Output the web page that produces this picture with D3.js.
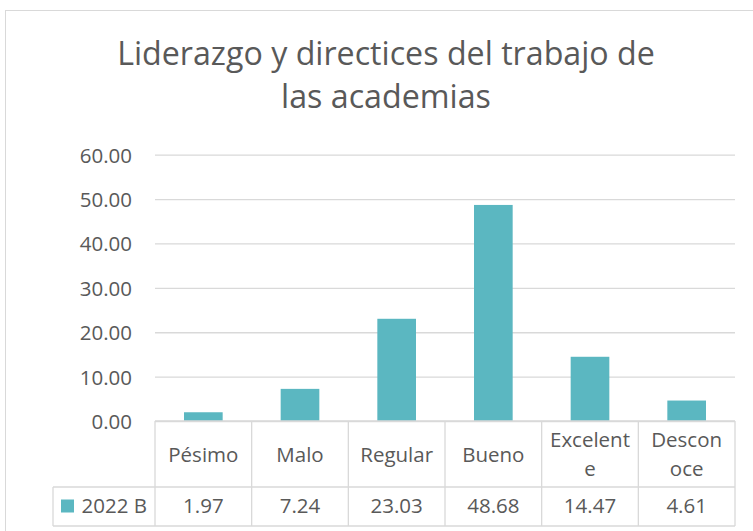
<!DOCTYPE html>
<html>
<head>
<meta charset="utf-8">
<script src="https://cdn.jsdelivr.net/npm/d3@7"></script>
<style>
  html, body { margin: 0; padding: 0; background: #fff; }
  text { font-family: "Open Sans", sans-serif; fill: #595959; }
</style>
</head>
<body>
<script>
const WIDTH = 753;
const HEIGHT = 531;

// data
const titleLines = ["Liderazgo y directices del trabajo de", "las academias"];
const categories = ["Pésimo", "Malo", "Regular", "Bueno", "Excelente", "Desconoce"];
const categoryLines = [["Pésimo"], ["Malo"], ["Regular"], ["Bueno"], ["Excelent", "e"], ["Descon", "oce"]];
const seriesName = "2022 B";
const values = [1.97, 7.24, 23.03, 48.68, 14.47, 4.61];
const yTicks = [0, 10, 20, 30, 40, 50, 60];

const BAR = "#5bb7c1";
const GRID = "#d9d9d9";

const plot = { left: 155, right: 735, top: 154.7, bottom: 421 };
const rowSplit = 487;
const tableBottom = 526;
const legendLeft = 53;

let svg = d3.select("body")
            .append("svg")
            .attr("width", WIDTH)
            .attr("height", HEIGHT);

// chart frame (cut off on the right and bottom)
svg.append("rect")
   .attr("x", 5.5).attr("y", 10.5)
   .attr("width", 800).attr("height", 600)
   .attr("fill", "#fff")
   .attr("stroke", GRID);

// title
svg.append("text")
   .attr("text-anchor", "middle")
   .style("font-size", "32.2px")
   .selectAll("tspan")
   .data(titleLines).enter()
   .append("tspan")
   .attr("x", 386)
   .attr("y", (d, i) => 65 + i * 43)
   .text(d => d);

let x = d3.scaleBand()
          .domain(categories)
          .range([plot.left, plot.right])
          .paddingInner(0.6)
          .paddingOuter(0.3);

let y = d3.scaleLinear()
          .domain([0, 60])
          .range([plot.bottom, plot.top]);

// gridlines + y labels
let yAxis = svg.append("g")
               .attr("transform", `translate(${plot.left},0)`)
               .call(d3.axisLeft(y)
                       .tickValues(yTicks)
                       .tickSize(-(plot.right - plot.left))
                       .tickPadding(23)
                       .tickFormat(d3.format(".2f")));
yAxis.select(".domain").remove();
yAxis.selectAll(".tick line").attr("stroke", GRID).attr("stroke-width", 1.3);
yAxis.selectAll(".tick text")
     .style("font-size", "20.5px")
     .style("font-family", "'Open Sans', sans-serif")
     .attr("fill", "#595959")
     .attr("dy", "0.36em");

// bars
svg.selectAll("rect.bar")
   .data(values).enter()
   .append("rect")
   .attr("class", "bar")
   .attr("x", (d, i) => x(categories[i]))
   .attr("y", d => y(d))
   .attr("width", x.bandwidth())
   .attr("height", d => y(0) - y(d))
   .attr("fill", BAR);

// data table
const step = x.step();
const colEdges = d3.range(categories.length + 1).map(i => plot.left + i * step);
let table = svg.append("g").attr("stroke", GRID).attr("stroke-width", 1.3);

table.append("line")
     .attr("x1", plot.left).attr("x2", plot.right)
     .attr("y1", plot.bottom).attr("y2", plot.bottom);
[rowSplit, tableBottom].forEach(yy => {
  table.append("line")
       .attr("x1", legendLeft).attr("x2", plot.right)
       .attr("y1", yy).attr("y2", yy);
});
colEdges.forEach(xx => {
  table.append("line")
       .attr("x1", xx).attr("x2", xx)
       .attr("y1", plot.bottom).attr("y2", tableBottom);
});
table.append("line")
     .attr("x1", legendLeft).attr("x2", legendLeft)
     .attr("y1", rowSplit).attr("y2", tableBottom);

// category labels
let catCells = svg.selectAll("text.cat")
                  .data(categoryLines).enter()
                  .append("text")
                  .attr("class", "cat")
                  .attr("text-anchor", "middle")
                  .style("font-size", "20.5px");
catCells.each(function(lines, i) {
  const cx = x(categories[i]) + x.bandwidth() / 2;
  const mid = (plot.bottom + rowSplit) / 2;
  const lh = 28.5;
  const first = mid + 7.5 - (lines.length - 1) * lh / 2;
  d3.select(this).selectAll("tspan")
    .data(lines).enter()
    .append("tspan")
    .attr("x", cx)
    .attr("y", (d, j) => first + j * lh)
    .text(d => d);
});

// values row
svg.selectAll("text.val")
   .data(values).enter()
   .append("text")
   .attr("class", "val")
   .attr("text-anchor", "middle")
   .style("font-size", "20.5px")
   .attr("x", (d, i) => x(categories[i]) + x.bandwidth() / 2)
   .attr("y", 512.5)
   .text(d => d3.format(".2f")(d));

// legend key
svg.append("rect")
   .attr("x", 61).attr("y", 499.5)
   .attr("width", 13).attr("height", 13)
   .attr("fill", BAR);
svg.append("text")
   .attr("x", 81.5).attr("y", 512.5)
   .style("font-size", "20.5px")
   .text(seriesName);
</script>
</body>
</html>
